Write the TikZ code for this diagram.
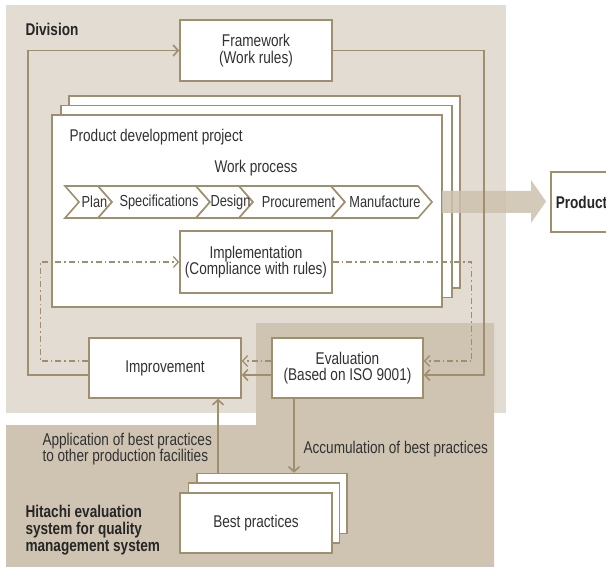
\documentclass[tikz,border=0pt]{standalone}
\usepackage{fontspec}
\setmainfont{Liberation Sans}[FakeStretch=0.8]
\usetikzlibrary{arrows.meta}
\definecolor{divbg}{RGB}{226,220,210}
\definecolor{hitbg}{RGB}{207,196,178}
\definecolor{linec}{RGB}{160,143,110}
\definecolor{outc}{RGB}{205,193,174}
\definecolor{textc}{RGB}{50,50,50}
\begin{document}
\begin{tikzpicture}[x=1pt,y=-1pt,
    font=\fontsize{17}{16.5}\selectfont, text=textc,
    box/.style={draw=linec,line width=1.6pt,fill=white,align=center,inner sep=0pt},
    chev/.style={draw=linec,line width=1.6pt,fill=white},
    flow/.style={draw=linec,line width=1.6pt,-{Straight Barb[length=5pt,width=11pt]}},
    dflow/.style={draw=linec,line width=1.3pt,dash pattern=on 6pt off 3pt on 1.5pt off 3pt,
        -{Straight Barb[length=5pt,width=11pt,sep=0pt]}},
    hd/.style={font=\fontsize{17}{17}\selectfont\bfseries,text=black!85,align=left}]
    \useasboundingbox (0,0) rectangle (606,567);
    \clip (0,0) rectangle (606,567);
    % backgrounds
    \fill[divbg] (6,5) rectangle (506,413);
    \fill[hitbg] (256,323) -- (494,323) -- (494,567) -- (6,567) -- (6,425) -- (256,425) -- cycle;
    \node[hd,anchor=west] (division) at (22,29) {Division};
    \node[hd,anchor=west] (hitachi) at (22,530) {Hitachi evaluation\\system for quality\\management system};
    % framework
    \node[box,minimum width=152pt,minimum height=61pt] (frame) at (256,50.5) {Framework\\(Work rules)};
    % project stack
    \node[box,minimum width=391pt,minimum height=192pt] (proj3) at (264.5,192) {};
    \node[box,minimum width=391pt,minimum height=192pt] (proj2) at (256.5,201.5) {};
    \node[box,minimum width=390pt,minimum height=192pt] (proj1) at (247,211) {};
    \node[anchor=west] (projname) at (66,137) {Product development project};
    \node (workproc) at (256,168) {Work process};
    \foreach \a/\b in {65/112,98/210,196/253,239/345,331/432}
        \draw[chev] (\a,186) -- ({\b-14},186) -- (\b,202) -- ({\b-14},218) -- (\a,218) -- ({\a+14},202) -- cycle;
    \foreach \c/\t [count=\i] in {94.5/Plan,159/Specifications,230.5/Design,298.5/Procurement,385/Manufacture}
        \node[font=\fontsize{16}{16}\selectfont] (ph\i) at (\c,202) {\t};
    \node[box,minimum width=152pt,minimum height=62pt] (impl) at (256,262) {Implementation\\(Compliance with rules)};
    % lower boxes
    \node[box,minimum width=152pt,minimum height=60pt] (improve) at (165,368) {Improvement};
    \node[box,minimum width=151pt,minimum height=60pt] (eval) at (347.5,368) {Evaluation\\(Based on ISO 9001)};
    \node[box,minimum width=150pt,minimum height=60pt] (best3) at (272,503.5) {};
    \node[box,minimum width=151pt,minimum height=60pt] (best2) at (264,513) {};
    \node[box,minimum width=152pt,minimum height=60pt] (best1) at (256,523) {Best practices};
    % output arrow
    \fill[outc,fill opacity=0.85] (442,191) -- (531,191) -- (531,180) -- (546,201.5) -- (531,223) -- (531,213) -- (442,213) -- cycle;
    \node[box,anchor=west,minimum height=60pt,text width=95pt,inner sep=5pt,align=left,font=\fontsize{17}{16.5}\selectfont\bfseries,text=black!85] (prod) at (550,202) {Product};
    % connectors
    \draw[flow] ([yshift=-7pt]improve.west) -- ++(-60,0) |- (frame.west);
    \draw[flow] (frame.east) -- ++(151,0) |- ([yshift=-7pt]eval.east);
    \draw[flow] ([yshift=-7pt]eval.west) -- ([yshift=-7pt]improve.east);
    \draw[dflow] ([yshift=7pt]eval.west) -- ([yshift=7pt]improve.east);
    \draw[dflow] ([yshift=7pt]improve.west) -- ++(-48,0) |- (impl.west);
    \draw[dflow] (impl.east) -- ++(139,0) |- ([yshift=7pt]eval.east);
    \draw[flow] ([xshift=-53.5pt]eval.south) -- ([xshift=-53.5pt]eval.south |- best3.north);
    \draw[flow] ([xshift=-54pt]best3.north) -- ([xshift=-54pt]best3.north |- improve.south);
    \node[anchor=west,align=left] (applab) at (39,449) {Application of best practices\\to other production facilities};
    \node[anchor=west] (acclab) at (300,449) {Accumulation of best practices};
\end{tikzpicture}
\end{document}
